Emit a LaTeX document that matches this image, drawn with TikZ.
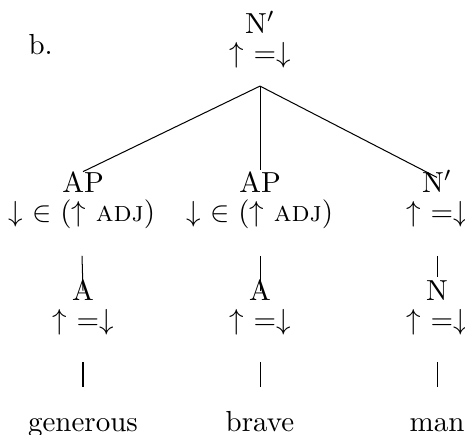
\documentclass[tikz,border=0pt]{standalone}
\begin{document}
\begin{tikzpicture}[x=0.3448pt,y=-0.3448pt,
  lbl/.style={inner sep=0pt,anchor=base,text height=6.83pt,text depth=0pt},
  ann/.style={inner sep=0pt,anchor=base,text height=6.94pt,text depth=2.5pt},
  word/.style={inner sep=0pt,anchor=base,text height=7pt,text depth=2pt},
  br/.style={line width=0.35pt}]
\useasboundingbox (0,0) rectangle (465,434);
% label
\node[inner sep=0pt,anchor=base west] (ex) at (28,54) {b.};
% root
\node[lbl] (t) at (260,33) {N$'$};
\node[ann] (tf) at (260,62) {$\uparrow$ =$\downarrow$};
\coordinate (apex) at ([yshift=-5.6pt]tf.south);
% row 2
\node[lbl] (ap1) at (83,192) {AP};
\node[ann] (ap1f) at (82,221) {$\downarrow$ $\in(\uparrow$ \textsc{adj}$)$};
\node[lbl] (ap2) at (260,192) {AP};
\node[ann] (ap2f) at (260,221) {$\downarrow$ $\in(\uparrow$ \textsc{adj}$)$};
\node[lbl] (n1) at (437,192) {N$'$};
\node[ann] (n1f) at (437,221) {$\uparrow$ =$\downarrow$};
% row 3
\node[lbl] (a1) at (83,300) {A};
\node[ann] (a1f) at (83,329) {$\uparrow$ =$\downarrow$};
\node[lbl] (a2) at (260,300) {A};
\node[ann] (a2f) at (260,329) {$\uparrow$ =$\downarrow$};
\node[lbl] (n2) at (437,300) {N};
\node[ann] (n2f) at (437,329) {$\uparrow$ =$\downarrow$};
% row 4
\node[word] (w1) at (83,431) {generous};
\node[word] (w2) at (260,431) {brave};
\node[word] (w3) at (437,431) {man};
% edges
\draw[br] (apex) -- (ap1.north);
\draw[br] (apex) -- ([yshift=0.5pt]ap2.north);
\draw[br] (apex) -- ([yshift=-2pt]n1.north);
\draw[br] ([yshift=-9.3pt]ap1f.south) -- ([yshift=-3.8pt]a1.north);
\draw[br] ([yshift=-9.3pt]ap2f.south) -- ([yshift=-3.8pt]a2.north);
\draw[br] ([yshift=-9.3pt]n1f.south) -- ([yshift=1pt]n2.north);
\draw[br] ([yshift=-8.6pt]a1f.south) -- ([yshift=8pt]w1.north);
\draw[br] ([yshift=-8.6pt]a2f.south) -- ([yshift=8pt]w2.north);
\draw[br] ([yshift=-8.6pt]n2f.south) -- ([yshift=8pt]w3.north);
\end{tikzpicture}
\end{document}
